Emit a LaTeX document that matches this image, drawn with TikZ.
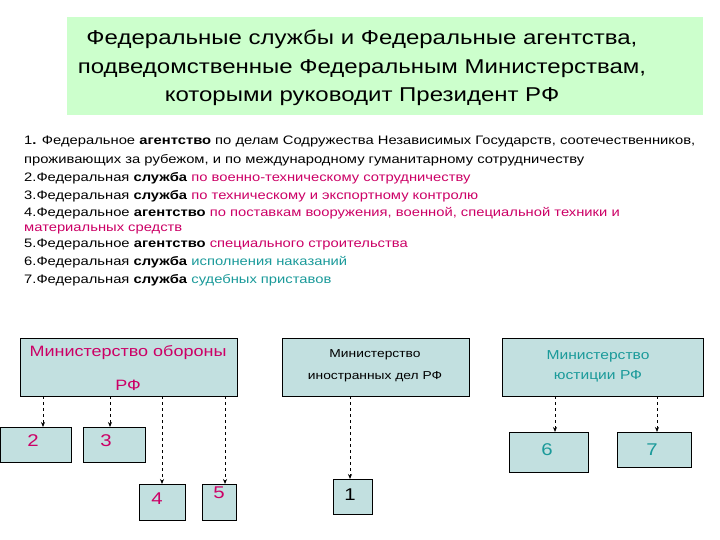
\documentclass[tikz,border=0pt]{standalone}
\usepackage{fontspec}
\setmainfont{Liberation Sans}[FakeStretch=1.2]
\usetikzlibrary{arrows.meta}
\definecolor{mag}{HTML}{CC0066}
\definecolor{tea}{HTML}{1A9A9A}
\definecolor{boxf}{HTML}{C2E0E0}
\definecolor{ttl}{HTML}{CCFFCC}
\begin{document}
\begin{tikzpicture}[x=1pt,y=-1pt,
  bx/.style={draw=black,line width=0.9pt,fill=boxf},
  ln/.style={anchor=west,inner sep=0pt,font=\fontsize{12.3}{13}\selectfont},
  con/.style={dashed,line width=0.9pt,-{Stealth[length=5pt,width=4pt]}},
  num/.style={font=\fontsize{17}{19}\selectfont}]
\useasboundingbox (0,0) rectangle (720,540);
\fill[white] (0,0) rectangle (720,540);
\fill[ttl] (67,17) rectangle (703,115);
\node[align=center,font=\fontsize{20}{28.5}\selectfont] (title) at (362,68) {Федеральные службы и Федеральные агентства,\\подведомственные Федеральным Министерствам,\\которыми руководит Президент РФ};
\node[ln] (l1) at (24,141) {1\textbf{.} Федеральное \textbf{агентство} по делам Содружества Независимых Государств, соотечественников,};
\node[ln] (l1b) at (24,160) {проживающих за рубежом, и по международному гуманитарному сотрудничеству};
\node[ln] (l2) at (24,178) {2.Федеральная \textbf{служба} \textcolor{mag}{по военно-техническому сотрудничеству}};
\node[ln] (l3) at (24,196) {3.Федеральная \textbf{служба} \textcolor{mag}{по техническому и экспортному контролю}};
\node[ln] (l4) at (24,213) {4.Федеральное \textbf{агентство} \textcolor{mag}{по поставкам вооружения, военной, специальной техники и}};
\node[ln,text=mag] (l4b) at (24,229) {материальных средств};
\node[ln] (l5) at (24,245) {5.Федеральное \textbf{агентство} \textcolor{mag}{специального строительства}};
\node[ln] (l6) at (24,262) {6.Федеральная \textbf{служба} \textcolor{tea}{исполнения наказаний}};
\node[ln] (l7) at (24,280) {7.Федеральная \textbf{служба} \textcolor{tea}{судебных приставов}};
% boxes
\draw[bx] (20,338) rectangle (237,396);
\node[text=mag,font=\fontsize{15}{17}\selectfont] (mo) at (128,353) {Министерство обороны};
\node[text=mag,font=\fontsize{15}{17}\selectfont] (mo2) at (128,385) {РФ};
\draw[bx] (282,338) rectangle (469,396);
\node[font=\fontsize{11.5}{13}\selectfont] (mid) at (375,355) {Министерство};
\node[font=\fontsize{11.5}{13}\selectfont] (mid2) at (375,377) {иностранных дел РФ};
\draw[bx] (502,338) rectangle (703,396);
\node[text=tea,font=\fontsize{13}{14}\selectfont] (mj) at (598,356) {Министерство};
\node[text=tea,font=\fontsize{13}{14}\selectfont] (mj2) at (598,376) {юстиции РФ};
\draw[bx] (0,427) rectangle (71,462); \node[num,text=mag] (b2) at (33,441) {2};
\draw[bx] (83,427) rectangle (145,462); \node[num,text=mag] (b3) at (106,441) {3};
\draw[bx] (139,484) rectangle (185,520); \node[num,text=mag] (b4) at (157,499) {4};
\draw[bx] (202,484) rectangle (236,520); \node[num,text=mag] (b5) at (219,493) {5};
\draw[bx] (333,479) rectangle (372,514); \node[num] (b1) at (350,495) {1};
\draw[bx] (509,432) rectangle (588,472); \node[num,text=tea] (b6) at (547,450) {6};
\draw[bx] (617,432) rectangle (691,467); \node[num,text=tea] (b7) at (652,450) {7};
% connectors
\draw[con] (43,396) -- (43,427);
\draw[con] (110,396) -- (110,427);
\draw[con] (162,396) -- (162,484);
\draw[con] (225,396) -- (225,484);
\draw[con] (350,396) -- (350,479);
\draw[con] (555,396) -- (555,432);
\draw[con] (657,396) -- (657,432);
\end{tikzpicture}
\end{document}
